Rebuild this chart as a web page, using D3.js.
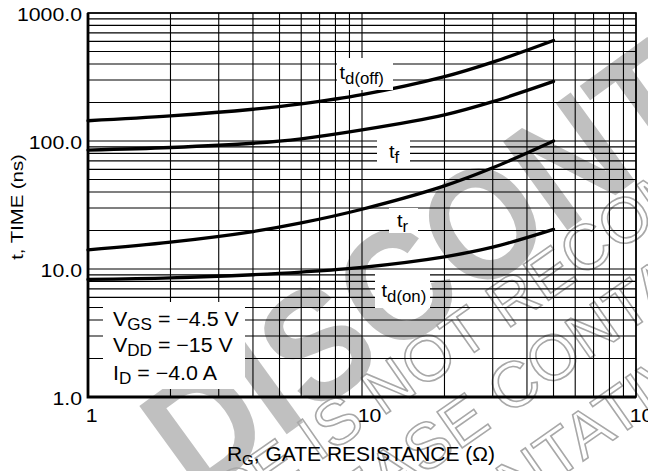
<!DOCTYPE html>
<html>
<head>
<meta charset="utf-8">
<script src="https://cdn.jsdelivr.net/npm/d3@7"></script>
<style>
  body { margin: 0; background: #fff; }
  svg { display: block; font-family: "Liberation Sans", Arial, Helvetica, sans-serif; }
</style>
</head>
<body>
<svg id="chart" width="648" height="471"></svg>
<script>
// gate resistance (ohm) and switching times (ns)
const rg    = [1, 2, 4, 6, 10, 20, 30, 50];
const tdOff = [144, 157, 177, 195, 230, 318, 413, 610];
const tf    = [85, 89, 96, 104, 122, 160, 203, 292];
const tr    = [14.1, 16.2, 19.6, 22.9, 29.3, 44.6, 61.7, 100];
const tdOn  = [8.3, 8.53, 9.02, 9.46, 10.3, 12.45, 14.8, 20.4];

const seriesNames = [['t', 'd(off)'], ['t', 'f'], ['t', 'r'], ['t', 'd(on)']];
const xTicks = [1, 10, 100];
const xTickLabels = ['1', '10', '100'];
const yTicks = [1, 10, 100, 1000];
const yTickLabels = ['1.0', '10.0', '100.0', '1000.0'];
const conditions = [['V', 'GS', ' = \u22124.5 V'], ['V', 'DD', ' = \u221215 V'], ['I', 'D', ' = \u22124.0 A']];

const svg = d3.select('#chart');
const margin = {left: 88, top: 13, right: 636, bottom: 397};

const x = d3.scaleLog().domain([1, 100]).range([margin.left, margin.right]);
const y = d3.scaleLog().domain([1, 1000]).range([margin.bottom, margin.top]);

// stretched text helper, the datasheet font is wider than Arial
function label(parent, px, py, sx, size, anchor, rot) {
  var g = parent.append('g')
    .attr('transform', 'translate(' + px + ',' + py + ')' + (rot ? ' rotate(' + rot + ')' : '') + ' scale(' + sx + ',1)');
  return g.append('text')
    .attr('text-anchor', anchor || 'start')
    .attr('font-size', size)
    .attr('fill', '#000');
}

// watermark, sits under everything
const wm = svg.append('g').attr('class', 'watermark');
wm.append('text')
  .attr('transform', 'translate(196,500) rotate(-36) scale(1,1.12)')
  .attr('font-size', 142)
  .attr('font-weight', 'bold')
  .attr('fill', '#c0c0c0')
  .text('DISCONTINUED');

const wmLines = [
  {text: 'THIS DEVICE IS NOT RECOMMENDED FOR NEW DESIGN.', at: 12, px: 318, py: 462},
  {text: 'PLEASE CONTACT YOUR ON SEMICONDUCTOR', at: 3, px: 388, py: 500},
  {text: 'REPRESENTATIVE FOR INFORMATION', at: 6, px: 482, py: 532}
];
const ang = -35 * Math.PI / 180;
wmLines.forEach(function(l) {
  var t = wm.append('text')
    .attr('font-size', 64)
    .attr('fill', 'none')
    .attr('stroke', '#a8a8a8')
    .attr('stroke-width', 1.6)
    .text(l.text);
  var off = t.node().getSubStringLength(0, l.at);
  var sx = l.px - off * Math.cos(ang), sy = l.py - off * Math.sin(ang);
  t.attr('transform', 'translate(' + sx + ',' + sy + ') rotate(-35)');
});

// grid
const grid = svg.append('g').attr('stroke', '#000').attr('stroke-width', 1.1);
grid.selectAll('line.v')
  .data(x.ticks())
  .enter().append('line')
  .attr('class', 'v')
  .attr('x1', function(d) { return x(d); })
  .attr('x2', function(d) { return x(d); })
  .attr('y1', margin.top)
  .attr('y2', margin.bottom);
grid.selectAll('line.h')
  .data(y.ticks())
  .enter().append('line')
  .attr('class', 'h')
  .attr('x1', margin.left)
  .attr('x2', margin.right)
  .attr('y1', function(d) { return y(d); })
  .attr('y2', function(d) { return y(d); });

// frame
svg.append('rect')
  .attr('x', margin.left).attr('y', margin.top)
  .attr('width', margin.right - margin.left).attr('height', margin.bottom - margin.top)
  .attr('fill', 'none').attr('stroke', '#000').attr('stroke-width', 1.6);
svg.append('path')
  .attr('d', 'M' + margin.left + ',' + margin.top + 'V' + margin.bottom + 'H' + margin.right)
  .attr('fill', 'none').attr('stroke', '#000').attr('stroke-width', 2.8);

// curves
const line = d3.line()
  .x(function(d) { return x(d[0]); })
  .y(function(d) { return y(d[1]); })
  .curve(d3.curveCatmullRom.alpha(0.5));

const series = [tdOff, tf, tr, tdOn];
svg.append('g').selectAll('path')
  .data(series)
  .enter().append('path')
  .attr('d', function(s) { return line(rg.map(function(r, i) { return [r, s[i]]; })); })
  .attr('fill', 'none')
  .attr('stroke', '#000')
  .attr('stroke-width', 3.3)
  .attr('stroke-linecap', 'round');

// curve labels on white patches
const labelBoxes = [
  {x0: 337, x1: 393, y0: 58, y1: 90, tx: 339.5, ty: 79},
  {x0: 377, x1: 410, y0: 140, y1: 163, tx: 389, ty: 158},
  {x0: 389, x1: 418, y0: 208, y1: 233, tx: 397, ty: 227},
  {x0: 375, x1: 430, y0: 272, y1: 308, tx: 381.5, ty: 297}
];
const lab = svg.append('g');
seriesNames.forEach(function(n, i) {
  var b = labelBoxes[i];
  lab.append('rect')
    .attr('x', b.x0).attr('y', b.y0)
    .attr('width', b.x1 - b.x0).attr('height', b.y1 - b.y0)
    .attr('fill', '#fff');
  var t = label(lab, b.tx, b.ty, 1.05, 19);
  t.append('tspan').text(n[0]);
  t.append('tspan').attr('dy', 5).attr('font-size', 16).text(n[1]);
});

// test conditions box
svg.append('rect')
  .attr('x', 103).attr('y', 302).attr('width', 142).attr('height', 87)
  .attr('fill', '#fff');
conditions.forEach(function(c, i) {
  var t = label(svg, 113, [326, 352, 380][i], 1.07, 20);
  t.append('tspan').text(c[0]);
  t.append('tspan').attr('dy', 4).attr('font-size', 16).text(c[1]);
  t.append('tspan').attr('dy', -4).text(c[2]);
});

// tick labels
yTicks.forEach(function(v, i) {
  label(svg, 82, y(v) + 8, 1.12, 19, 'end').text(yTickLabels[i]);
});
xTicks.forEach(function(v, i) {
  var s = xTickLabels[i];
  label(svg, x(v) - 2.3 - 2 * (s.length - 1), 421.5, 1.12, 19, 'start').text(s);
});

// axis titles
const xt = label(svg, 361, 461, 1, 21, 'middle');
xt.append('tspan').text('R');
xt.append('tspan').attr('dy', 4).attr('font-size', 15).text('G');
xt.append('tspan').attr('dy', -4).text(', GATE RESISTANCE (\u03a9)');

label(svg, 23, 207, 1.27, 16, 'middle', -90).text('t, TIME (ns)');
</script>
</body>
</html>
